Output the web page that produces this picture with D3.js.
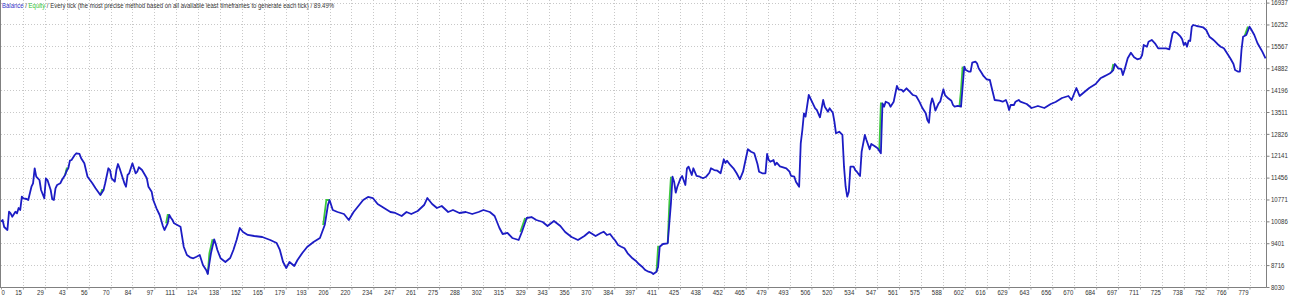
<!DOCTYPE html>
<html>
<head>
<meta charset="utf-8">
<script src="https://cdn.jsdelivr.net/npm/d3@7"></script>
<style>
    body { margin: 0; background: #fff; }
    svg { display: block; }
    text { font-family: "Liberation Sans", Arial, sans-serif; font-size: 7px; fill: #333; }
</style>
</head>
<body>
<div id="container"></div>
<script>
// trade number / balance
const tradeNo = [
    0,1,2,4,5,6,7,9,10,11,12,13,14,16,17,19,20,21,22,23,24,25,27,28,29,31,32,33,34,35,37,38,40,41,42,43,44,46,47,49,
    50,52,53,54,57,59,61,62,64,65,67,68,69,71,72,73,74,76,77,78,79,80,82,83,84,85,86,88,89,91,92,94,95,97,99,101,102,104,105,106,
    107,108,110,112,113,114,116,118,120,122,124,125,126,128,129,130,131,133,134,135,137,
    140,143,145,147,149,151,154,158,163,168,172,174,176,178,180,183,185,188,191,195,199,202,204,205,207,210,214,217,220,223,
    226,229,232,235,239,243,246,250,253,256,260,264,266,269,272,275,279,282,286,290,294,298,301,305,308,311,313,316,319,323,
    325,328,331,334,338,341,345,349,352,356,360,364,367,371,
    374,376,378,380,382,383,385,387,389,391,394,396,398,400,402,404,406,407,409,410,411,413,416,417,418,419,420,421,422,424,
    425,427,428,429,431,432,434,436,438,440,442,443,445,447,449,451,452,453,455,457,459,461,463,466,468,470,472,473,475,477,
    478,479,480,482,483,484,486,488,490,492,493,495,496,498,
    499,500,501,502,504,506,508,509,511,513,514,516,517,519,520,521,523,525,526,527,528,529,530,532,533,534,536,537,539,540,
    542,543,545,547,549,550,551,552,554,555,557,559,560,562,563,565,567,569,571,573,575,577,578,579,580,581,582,583,585,586,
    588,589,591,593,594,595,597,599,601,602,604,605,606,608,609,610,612,613,615,617,618,620,623,625,627,628,629,630,632,633,635,636,
    640,643,647,651,655,658,662,666,668,671,673,676,679,683,
    686,688,690,692,694,695,697,699,700,701,703,705,707,709,711,712,713,715,716,718,720,722,725,727,729,731,732,734,736,737,
    738,739,740,741,742,743,744,746,748,750,752,753,754,756,757,759,761,763,765,767,769,770,772,773,774,775,777,779,780,782,
    784,785,787,789
];
const balance = [
    10075,10128,9909,9815,10388,10338,10232,10388,10338,10504,10442,10858,10808,10786,10755,11171,11278,11748,11485,11434,
    11381,11068,10808,11434,11381,11068,10777,10755,11121,11225,11278,11381,11538,11673,11748,11986,12008,12164,12218,12196,
    12061,11904,11694,11485,11278,11121,10983,10911,11068,11278,11748,11694,11434,11328,11694,11882,11748,11434,11278,11171,
    11538,11591,11904,11748,11591,11641,11779,11694,11610,11434,11171,11015,10755,10495,10285,9941,9815,10025,10285,10200,
    10128,10025,9972,9919,9605,9292,9032,8960,8929,8979,9032,8876,8719,8562,8437,8772,9085,9524,9377,9189,8929,
    8813,8938,9189,9502,9878,9753,9659,9627,9596,9502,9408,9189,8813,8625,8813,8688,8876,9095,9283,9439,
    9565,9972,10598,10755,10442,10379,10316,10128,10379,10567,10755,10849,10817,10630,10504,10379,10348,10254,10379,10316,
    10410,10598,10817,10630,10504,10567,10379,10442,10348,10379,10316,10379,10442,10379,10254,9878,9690,9722,9565,9502,
    9753,10191,10222,10128,10066,9941,10097,9941,9753,9596,9502,9627,9753,9627,
    9712,9762,9659,9690,9555,9502,9345,9292,9242,9085,8929,8854,8750,8666,8562,8509,8478,8437,8509,8666,
    9292,9377,9399,10025,10651,11485,11328,10983,11171,11434,11507,11225,11748,11798,11538,11748,11507,11485,11434,11485,
    11610,11748,11694,11673,11591,12030,11914,11986,11851,11748,11591,11403,11641,12343,12268,12218,11882,11641,11591,11591,
    12196,12008,11954,12008,11851,11923,11810,11779,11748,11641,11507,11485,11328,11171,
    12531,12947,13470,13364,14043,13834,13627,13574,13345,13887,13677,13520,13627,13489,13207,12844,12894,12791,11798,11171,
    10858,11015,11798,11798,11694,11641,11507,12268,12791,12634,12343,12509,12446,12374,12218,13783,13677,13834,13783,13677,
    13834,14325,14222,14200,14147,14253,14147,14043,14012,13834,13627,13470,13260,13176,13730,13940,13783,13552,13783,13834,
    14222,14043,13940,13865,13730,13677,13699,13677,14930,14826,14773,14773,15055,15086,15036,14880,14723,14639,14535,
    14513,14303,13887,13865,13834,13887,13762,13574,13730,13730,13834,13887,13834,
    13762,13636,13699,13636,13762,13824,13949,14012,13887,14263,14012,14137,14263,14388,
    14566,14617,14670,14723,14826,15014,14880,14858,14670,14826,15193,15368,15224,15161,15193,15296,15609,15556,15713,15766,
    15663,15506,15506,15506,15475,15976,16026,15976,15869,15788,15609,15682,15556,15744,15735,16183,16236,16204,16183,16164,
    16079,15976,15869,15788,15744,15641,15556,15506,15350,15193,15014,14826,14773,14773,15453,15869,15923,16183,16101,15923,
    15663,15578,15400,15193
];
// short stretches where equity runs ahead of the closed balance
const equitySegments = [
    [[40, 11538], [41, 11748], [42, 11748]],
    [[62, 10911], [63, 11068], [64, 11068]],
    [[103, 10025], [104, 10285], [105, 10285]],
    [[129, 8437], [130, 9085], [132, 9524]],
    [[201, 9972], [203, 10755], [205, 10755]],
    [[324, 9753], [327, 10191]],
    [[409, 8509], [410, 9292], [411, 9292]],
    [[416, 9399], [417, 10651], [418, 11485]],
    [[548, 12300], [549, 13783], [550, 13783]],
    [[598, 13677], [599, 14200], [600, 14930]],
    [[693, 14760], [694, 15014]],
    [[776, 15900], [778, 16183]]
];
const xLabels = [0,15,29,43,56,70,84,97,111,124,138,152,165,179,193,206,220,234,247,261,275,288,302,315,329,343,356,370,384,397,
    411,425,438,452,465,479,493,506,520,534,547,561,575,588,602,616,629,643,656,670,684,697,711,725,738,752,766,779];
const yLabels = [16937,16252,15567,14882,14196,13511,12826,12141,11456,10771,10086,9401,8716,8030];
const legendParts = [
    ["Balance", "#3232c8"],
    [" / ", "#333"],
    ["Equity", "#2fbf2f"],
    [" / Every tick (the most precise method based on all available least timeframes to generate each tick) / 89.49%", "#333"]
];

const w = 1290, h = 298;
const padL = 1, padR = 1266, padT = 2.6, padB = 287, lastGrid = 1249.5;
const digitW = 3.35;

if (tradeNo.length !== balance.length) console.warn('length mismatch', tradeNo.length, balance.length);

const xScale = d3.scaleLinear().domain([0, 779]).range([padL, lastGrid]);
const xGrid = d3.scalePoint().domain(xLabels).range([padL, lastGrid]);
const yScale = d3.scaleLinear().domain([8030, 16937]).range([padB, padT]);

const svg = d3.select("#container")
    .append("svg")
    .attr("width", w)
    .attr("height", h);

const crisp = v => Math.round(v) + 0.5;

// grid
svg.append("g").selectAll("line")
    .data(xLabels.slice(1))
    .enter().append("line")
    .attr("x1", d => crisp(xGrid(d))).attr("x2", d => crisp(xGrid(d)))
    .attr("y1", 0).attr("y2", padB)
    .attr("stroke", "#c8c8c8").attr("stroke-dasharray", "1,2");
svg.append("g").selectAll("line")
    .data(yLabels.slice(0, -1))
    .enter().append("line")
    .attr("x1", padL).attr("x2", padR)
    .attr("y1", d => crisp(yScale(d))).attr("y2", d => crisp(yScale(d)))
    .attr("stroke", "#c8c8c8").attr("stroke-dasharray", "1,2");

// frame
svg.append("line").attr("x1", 0.5).attr("x2", 0.5).attr("y1", 0).attr("y2", padB + 0.5).attr("stroke", "#808080");
svg.append("line").attr("x1", 0).attr("x2", padR + 0.5).attr("y1", padB + 0.5).attr("y2", padB + 0.5).attr("stroke", "#808080");

// y axis on the right
const yAxis = d3.axisRight(yScale).tickValues(yLabels).tickSize(3).tickPadding(1.5).tickFormat(d3.format("d"));
const yG = svg.append("g")
    .attr("transform", "translate(" + (padR + 0.5) + ",0)")
    .call(yAxis);
yG.select(".domain").attr("stroke", "#808080").attr("d", "M0,0V" + (padB + 0.5));
yG.selectAll(".tick line").attr("stroke", "#808080");
yG.selectAll("text")
    .attr("fill", "#333").style("font-size", "7px").attr("font-family", null)
    .attr("textLength", d => String(d).length * digitW).attr("lengthAdjust", "spacingAndGlyphs");

// x axis at the bottom
const xAxis = d3.axisBottom(xGrid).tickSize(2).tickPadding(1);
const xG = svg.append("g")
    .attr("transform", "translate(0," + (padB + 0.5) + ")")
    .call(xAxis);
xG.select(".domain").remove();
xG.selectAll(".tick line").attr("stroke", "#a0a0a0");
xG.selectAll("text")
    .attr("fill", "#333").style("font-size", "7px").attr("font-family", null)
    .attr("text-anchor", (d, i) => i === 0 ? "start" : "end")
    .attr("x", (d, i) => i === 0 ? 0 : -1.5)
    .attr("textLength", d => String(d).length * digitW).attr("lengthAdjust", "spacingAndGlyphs");

// equity first, balance on top
const line = d3.line().x(d => xScale(d[0])).y(d => yScale(d[1]));
svg.append("g").selectAll("path")
    .data(equitySegments)
    .enter().append("path")
    .attr("d", line)
    .attr("fill", "none")
    .attr("stroke", "#3cc83c")
    .attr("stroke-width", 1.8);

const balancePts = tradeNo.map((t, i) => [t, balance[i]]);
svg.append("path")
    .datum(balancePts)
    .attr("d", line)
    .attr("fill", "none")
    .attr("stroke", "#1c1cc4")
    .attr("stroke-width", 1.8)
    .attr("stroke-linejoin", "round");

// legend line at the top, squeezed horizontally like the tester font
const legendG = svg.append("g").attr("transform", "translate(2,8) scale(0.855,1)");
const legend = legendG.append("text").attr("x", 0).attr("y", 0);
legendParts.forEach(p => legend.append("tspan").attr("fill", p[1]).style("white-space", "pre").text(p[0]));
</script>
</body>
</html>
